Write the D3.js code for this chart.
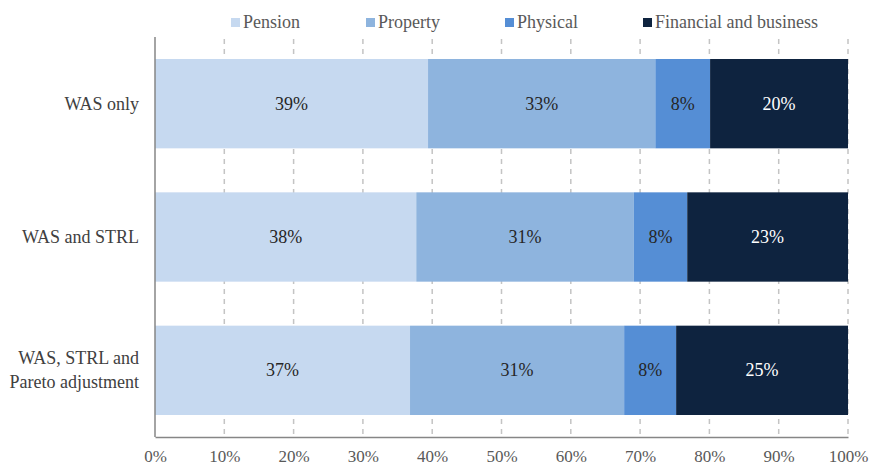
<!DOCTYPE html>
<html>
<head>
<meta charset="utf-8">
<script src="https://cdn.jsdelivr.net/npm/d3@7"></script>
<style>
  body { margin: 0; background: #fff; }
</style>
</head>
<body>
<svg width="871" height="466"></svg>
<script>
const categories = ["WAS only", "WAS and STRL", "WAS, STRL and Pareto adjustment"];
const series = ["Pension", "Property", "Physical", "Financial and business"];
const pension = [39.4, 37.7, 36.8];
const property = [32.8, 31.4, 30.9];
const physical = [7.9, 7.7, 7.5];
const financial = [19.9, 23.2, 24.8];
const labels = [["39%", "33%", "8%", "20%"], ["38%", "31%", "8%", "23%"], ["37%", "31%", "8%", "25%"]];
const colors = ["#c6d9f0", "#8eb4de", "#558ed5", "#0e233f"];

const FONT = "'Liberation Serif', 'Times New Roman', serif";

const svg = d3.select("svg").style("font-family", FONT),
  margin = { top: 37, right: 23, bottom: 29, left: 155 },
  width = 871 - margin.left - margin.right,
  height = 466 - margin.top - margin.bottom;

const rows = categories.map((c, i) => ({
  cat: c, Pension: pension[i], Property: property[i], Physical: physical[i],
  "Financial and business": financial[i], idx: i
}));
const stacked = d3.stack().keys(series)(rows);

const x = d3.scaleLinear().domain([0, 100]).range([0, width]);
const y = d3.scaleBand().domain(categories).range([0, height]).paddingInner(0.33).paddingOuter(0.165);

const g = svg.append("g").attr("transform", "translate(" + margin.left + "," + margin.top + ")");

// dashed gridlines
g.selectAll("line.grid")
  .data(d3.range(10, 101, 10))
  .enter()
  .append("line")
  .attr("class", "grid")
  .attr("x1", d => x(d)).attr("x2", d => x(d))
  .attr("y1", 2).attr("y2", height)
  .attr("stroke", "#c4c4c4")
  .attr("stroke-width", 1.5)
  .attr("stroke-dasharray", "5,5");

const layer = g.selectAll("g.layer")
  .data(stacked)
  .enter()
  .append("g")
  .attr("fill", (d, i) => colors[i]);

layer.selectAll("rect")
  .data(d => d)
  .enter()
  .append("rect")
  .attr("x", d => x(d[0]))
  .attr("width", d => x(d[1]) - x(d[0]))
  .attr("y", d => y(d.data.cat))
  .attr("height", y.bandwidth());

layer.selectAll("text")
  .data((d, si) => d.map(v => ({ v, si })))
  .enter()
  .append("text")
  .attr("x", d => (x(d.v[0]) + x(d.v[1])) / 2)
  .attr("y", d => y(d.v.data.cat) + y.bandwidth() / 2 + 6)
  .attr("text-anchor", "middle")
  .style("font-family", FONT)
  .style("font-size", "18px")
  .attr("fill", d => d.si === 3 ? "#ffffff" : "#262626")
  .text(d => labels[d.v.data.idx][d.si]);

// axes
const xAxis = g.append("g")
  .attr("transform", "translate(0," + height + ")")
  .call(d3.axisBottom(x).tickValues(d3.range(0, 101, 10)).tickFormat(d => d + "%").tickSize(0).tickPadding(0));
xAxis.attr("font-family", null);
xAxis.select(".domain").attr("stroke", "#868686").attr("stroke-width", 1.5);
xAxis.selectAll("text")
  .attr("y", 25)
  .attr("dy", null)
  .style("font-family", FONT)
  .style("font-size", "17px")
  .attr("fill", "#595959");

g.append("line")
  .attr("x1", 0).attr("x2", 0).attr("y1", 0).attr("y2", height)
  .attr("stroke", "#868686")
  .attr("stroke-width", 1.5);

// category labels
const catLines = { "WAS, STRL and Pareto adjustment": ["WAS, STRL and", "Pareto adjustment"] };
categories.forEach(c => {
  const lines = catLines[c] || [c];
  const mid = y(c) + y.bandwidth() / 2;
  lines.forEach((l, i) => {
    g.append("text")
      .attr("text-anchor", "end")
      .attr("x", -16)
      .attr("y", mid + 6 + (i - (lines.length - 1) / 2) * 24)
      .style("font-family", FONT)
      .style("font-size", "18px")
      .attr("fill", "#404040")
      .text(l);
  });
});

// legend
const legendX = [231, 366, 505, 643];
const legend = svg.append("g");
series.forEach((s, i) => {
  legend.append("rect")
    .attr("x", legendX[i]).attr("y", 18)
    .attr("width", 9).attr("height", 9)
    .attr("fill", colors[i]);
  legend.append("text")
    .attr("x", legendX[i] + 12).attr("y", 28)
    .style("font-family", FONT)
    .style("font-size", "18px")
    .attr("fill", "#595959")
    .text(s);
});
</script>
</body>
</html>
